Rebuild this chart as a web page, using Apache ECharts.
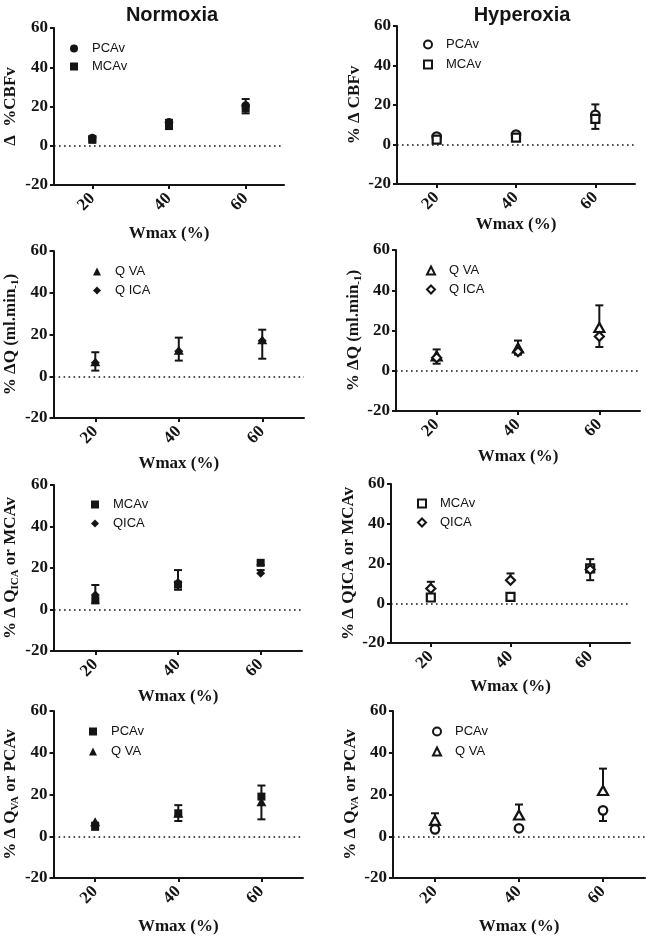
<!DOCTYPE html>
<html><head><meta charset="utf-8">
<script src="https://cdn.jsdelivr.net/npm/echarts@6/dist/echarts.min.js"></script>
<style>html,body{margin:0;padding:0;background:#fff}#c{width:646px;height:937px}</style>
</head><body><div id="c"></div><script>
// ---------- data ----------
const xCats = ['20', '40', '60'];
const yMin = -20, yMax = 60, yStep = 20;
const colTitles = ['Normoxia', 'Hyperoxia'];
const xName = 'Wmax (%)';

// Row 1: Δ%CBFv
const nCbfvPCAv = [4, 12, 20.5];
const nCbfvPCAvErr = [1, 1.2, 3.3];      // upward
const nCbfvMCAv = [3, 10.5, 19];
const nCbfvMCAvErr = [0.8, 2, 2.5];      // downward
const hCbfvPCAv = [4, 5, 15];
const hCbfvPCAvErr = [1, 1, 5.3];        // upward
const hCbfvMCAv = [2.5, 3.5, 13];
const hCbfvMCAvErr = [0.8, 1, 5.1];      // downward

// Row 2: %ΔQ
const nQVA = [7, 12.5, 17.5];
const nQVAErr = [4.5, 6, 4.8];           // upward
const nQICA = [6.5, 12, 17];
const nQICAErr = [3.8, 4.5, 8.6];        // downward
const hQVA = [7.3, 11.3, 21.5];
const hQVAErr = [3.3, 3.7, 11];          // upward
const hQICA = [6.5, 9.5, 17];
const hQICAErr = [3, 1.5, 5.2];          // downward

// Row 3: %Δ QICA or MCAv
const nR3MCAv = [4.5, 12, 22.5];
const nR3MCAvErr = [1.5, 2.5, 1];        // downward
const nR3QICA = [7, 13, 17.5];
const nR3QICAErr = [4.8, 6, 1.5];        // upward
const hR3MCAv = [2.9, 3.2, 17.5];
const hR3MCAvErr = [1, 1, 5.9];          // downward
const hR3QICA = [7.4, 11.6, 17];
const hR3QICAErr = [3.4, 3.4, 5.2];      // upward

// Row 4: %Δ QVA or PCAv
const nR4PCAv = [4.5, 11, 19];
const nR4PCAvErr = [0.5, 3.9, 5.3];      // upward
const nR4QVA = [7, 11, 16.5];
const nR4QVAErr = [0.5, 3.7, 8.4];       // downward
const hR4PCAv = [3.3, 3.8, 12.4];
const hR4PCAvErr = [1, 1, 5.1];          // downward
const hR4QVA = [7.6, 10.2, 21.9];
const hR4QVAErr = [3.4, 5, 10.5];        // upward

// ---------- layout / style ----------
const INK = '#141414';
const SERIF = '"Liberation Serif", "Times New Roman", serif';
const SANS = '"Liberation Sans", Arial, sans-serif';

const panels = [
  { grid: {left: 48, top: 28, width: 236, height: 157}, yName: 'Δ  %CBFv', yGap: 33, xGap: 40, leg: {cx: 74, cy: 47, gap: 5},
    series: [
      {name: 'PCAv', vals: nCbfvPCAv, err: nCbfvPCAvErr, dir: 1, symbol: 'circle', hollow: false},
      {name: 'MCAv', vals: nCbfvMCAv, err: nCbfvMCAvErr, dir: -1, symbol: 'rect', hollow: false}]},
  { grid: {left: 397, top: 26, width: 238, height: 158}, yName: '% Δ CBFv', yGap: 31, xGap: 32, leg: {cx: 427, cy: 43, gap: 7},
    series: [
      {name: 'PCAv', vals: hCbfvPCAv, err: hCbfvPCAvErr, dir: 1, symbol: 'circle', hollow: true},
      {name: 'MCAv', vals: hCbfvMCAv, err: hCbfvMCAvErr, dir: -1, symbol: 'rect', hollow: true}]},
  { grid: {left: 53, top: 251, width: 251, height: 167}, yName: '% ΔQ (ml.min{sub|-1})', yGap: 32, xGap: 37, leg: {cx: 97, cy: 270, gap: 6},
    series: [
      {name: 'Q VA', vals: nQVA, err: nQVAErr, dir: 1, symbol: 'triangle', hollow: false},
      {name: 'Q ICA', vals: nQICA, err: nQICAErr, dir: -1, symbol: 'diamond', hollow: false}]},
  { grid: {left: 396, top: 250, width: 244, height: 161}, yName: '% ΔQ (ml.min{sub|-1})', yGap: 31, xGap: 37, leg: {cx: 430, cy: 269, gap: 6},
    series: [
      {name: 'Q VA', vals: hQVA, err: hQVAErr, dir: 1, symbol: 'triangle', hollow: true},
      {name: 'Q ICA', vals: hQICA, err: hQICAErr, dir: -1, symbol: 'diamond', hollow: true}]},
  { grid: {left: 53, top: 485, width: 249, height: 166}, yName: '% Δ Q{sub|ICA} or MCAv', yGap: 33, xGap: 37, leg: {cx: 95, cy: 503, gap: 6},
    series: [
      {name: 'MCAv', vals: nR3MCAv, err: nR3MCAvErr, dir: -1, symbol: 'rect', hollow: false},
      {name: 'QICA', vals: nR3QICA, err: nR3QICAErr, dir: 1, symbol: 'diamond', hollow: false}]},
  { grid: {left: 391, top: 484, width: 239, height: 159}, yName: '% Δ QICA or MCAv', yGap: 28, xGap: 35, leg: {cx: 421, cy: 502, gap: 6},
    series: [
      {name: 'MCAv', vals: hR3MCAv, err: hR3MCAvErr, dir: -1, symbol: 'rect', hollow: true},
      {name: 'QICA', vals: hR3QICA, err: hR3QICAErr, dir: 1, symbol: 'diamond', hollow: true}]},
  { grid: {left: 51, top: 711, width: 252, height: 167}, yName: '% Δ Q{sub|VA} or PCAv', yGap: 32, xGap: 40, leg: {cx: 93, cy: 730, gap: 7},
    series: [
      {name: 'PCAv', vals: nR4PCAv, err: nR4PCAvErr, dir: 1, symbol: 'rect', hollow: false},
      {name: 'Q VA', vals: nR4QVA, err: nR4QVAErr, dir: -1, symbol: 'triangle', hollow: false}]},
  { grid: {left: 393, top: 711, width: 252, height: 167}, yName: '% Δ Q{sub|VA} or PCAv', yGap: 28, xGap: 40, leg: {cx: 436, cy: 730, gap: 7},
    series: [
      {name: 'PCAv', vals: hR4PCAv, err: hR4PCAvErr, dir: -1, symbol: 'circle', hollow: true},
      {name: 'Q VA', vals: hR4QVA, err: hR4QVAErr, dir: 1, symbol: 'triangle', hollow: true}]}
];

function markerStyle(hollow) {
  return hollow ? {color: '#fff', borderColor: INK, borderWidth: 2.2, opacity: 1}
                : {color: INK, borderColor: INK, borderWidth: 0, opacity: 1};
}
function symSize(sym) {
  if (sym === 'triangle') return [10, 9];
  if (sym === 'diamond') return [9, 9];
  if (sym === 'rect') return [8, 8];
  return 8.5;
}

const grids = [], xAxes = [], yAxes = [], series = [], legends = [];
panels.forEach((p, gi) => {
  grids.push(Object.assign({containLabel: false}, p.grid));
  xAxes.push({
    gridIndex: gi, type: 'category', data: xCats, boundaryGap: true,
    axisLine: {show: true, onZero: false, lineStyle: {color: INK, width: 2}},
    axisTick: {show: true, alignWithLabel: true, length: 4, lineStyle: {color: INK, width: 2}},
    axisLabel: {rotate: 45, margin: 11, color: INK, fontFamily: SERIF, fontWeight: 'bold', fontSize: 17},
    splitLine: {show: false},
    name: xName, nameLocation: 'middle', nameGap: p.xGap,
    nameTextStyle: {color: INK, fontFamily: SERIF, fontWeight: 'bold', fontSize: 17}
  });
  yAxes.push({
    gridIndex: gi, type: 'value', min: yMin, max: yMax, interval: yStep,
    axisLine: {show: true, onZero: false, lineStyle: {color: INK, width: 2}},
    axisTick: {show: true, length: 4, lineStyle: {color: INK, width: 2}},
    axisLabel: {margin: 6, color: INK, fontFamily: SERIF, fontWeight: 'bold', fontSize: 17},
    splitLine: {show: false},
    name: p.yName, nameLocation: 'middle', nameRotate: 90, nameGap: p.yGap,
    nameTextStyle: {color: INK, fontFamily: SERIF, fontWeight: 'bold', fontSize: 17, lineHeight: 20,
      rich: {sub: {fontFamily: SERIF, fontWeight: 'bold', fontSize: 11, verticalAlign: 'bottom', lineHeight: 14, padding: [6, 0, 0, 0]}}}
  });
  const legNames = [];
  p.series.forEach((s, si) => {
    const nm = 'p' + gi + '|' + s.name;
    legNames.push(nm);
    // error bars (drawn under markers)
    series.push({
      type: 'custom', xAxisIndex: gi, yAxisIndex: gi, z: 2, silent: true,
      data: s.vals.map((v, i) => [i, v, s.err[i]]),
      renderItem: (params, api) => {
        const xi = api.value(0), v = api.value(1), e = api.value(2);
        const p0 = api.coord([xi, v]);
        const p1 = api.coord([xi, v + s.dir * e]);
        const cw = 4;
        return {type: 'group', children: [
          {type: 'line', shape: {x1: p0[0], y1: p0[1], x2: p1[0], y2: p1[1]}, style: {stroke: INK, lineWidth: 2}},
          {type: 'line', shape: {x1: p1[0] - cw, y1: p1[1], x2: p1[0] + cw, y2: p1[1]}, style: {stroke: INK, lineWidth: 2}}
        ]};
      }
    });
    const sc = {
      type: 'scatter', name: nm, xAxisIndex: gi, yAxisIndex: gi, z: 3 + si,
      symbol: s.symbol, symbolSize: symSize(s.symbol),
      itemStyle: markerStyle(s.hollow),
      emphasis: {disabled: true},
      data: s.vals
    };
    if (si === 0) {
      sc.markLine = {
        silent: true, symbol: 'none', label: {show: false}, animation: false,
        lineStyle: {color: INK, width: 1.6, type: [1.6, 3.4]},
        data: [{yAxis: 0}]
      };
    }
    series.push(sc);
  });
  legends.push({
    orient: 'vertical', left: p.leg.cx - 4, top: p.leg.cy - 5, padding: 0,
    itemWidth: 8, itemHeight: 8, itemGap: p.leg.gap,
    selectedMode: false, data: legNames,
    formatter: n => '{t|' + n.split('|')[1] + '}',
    textStyle: {color: INK, fontFamily: SANS, fontSize: 13,
      rich: {t: {color: INK, fontFamily: SANS, fontSize: 13, padding: [0, 0, 0, 9]}}}
  });
});

const option = {
  backgroundColor: '#fff',
  animation: false,
  title: [
    {text: colTitles[0], left: 167, top: 0, textAlign: 'center',
     textStyle: {fontFamily: SANS, fontWeight: 'bold', fontSize: 20, color: INK}},
    {text: colTitles[1], left: 517, top: 0, textAlign: 'center',
     textStyle: {fontFamily: SANS, fontWeight: 'bold', fontSize: 20, color: INK}}
  ],
  grid: grids, xAxis: xAxes, yAxis: yAxes, legend: legends, series: series
};
const chart = echarts.init(document.getElementById('c'), null, {renderer: 'canvas'});
chart.setOption(option);
</script></body></html>
